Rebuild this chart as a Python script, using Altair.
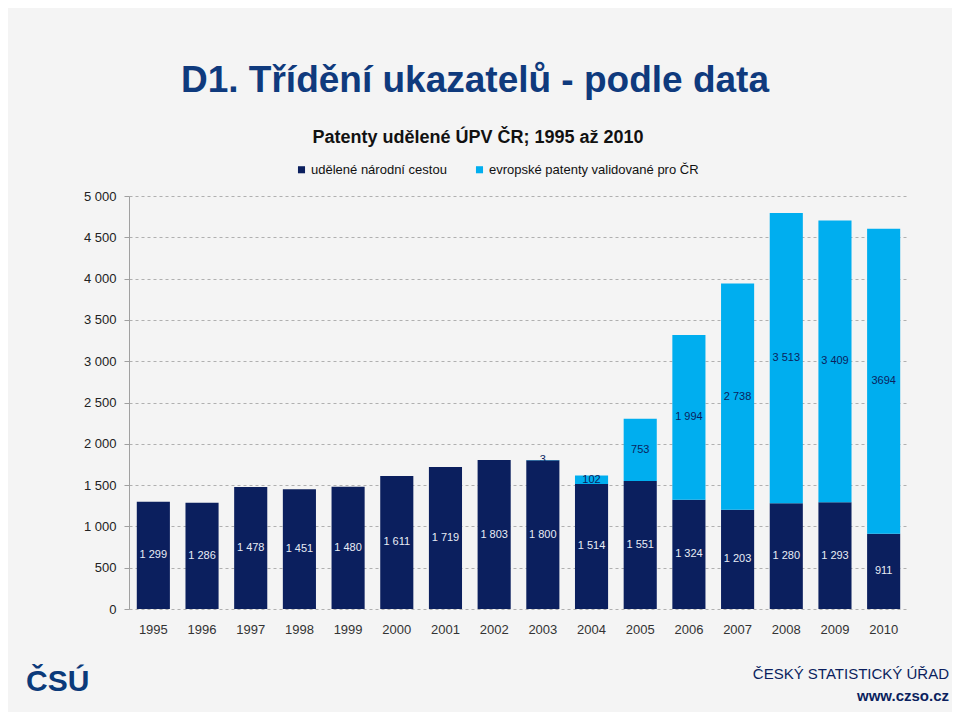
import altair as alt
import pandas as pd

years = ["1995", "1996", "1997", "1998", "1999", "2000", "2001", "2002",
         "2003", "2004", "2005", "2006", "2007", "2008", "2009", "2010"]
national = [1299, 1286, 1478, 1451, 1480, 1611, 1719, 1803,
            1800, 1514, 1551, 1324, 1203, 1280, 1293, 911]
european = [0, 0, 0, 0, 0, 0, 0, 0,
            3, 102, 753, 1994, 2738, 3513, 3409, 3694]
european_labels = ["", "", "", "", "", "", "", "",
                   "3", "102", "753", "1 994", "2 738", "3 513", "3 409", "3694"]
series_names = ["udělené národní cestou", "evropské patenty validované pro ČR"]
colors = ["#0B1F5E", "#00AEEF"]

rows = []
for i, y in enumerate(years):
    rows.append({"rok": y, "serie": series_names[0], "order": 0,
                 "start": 0, "end": national[i],
                 "label": f"{national[i]:,}".replace(",", " ")})
    if european[i] > 0:
        rows.append({"rok": y, "serie": series_names[1], "order": 1,
                     "start": national[i], "end": national[i] + european[i],
                     "label": european_labels[i]})
df = pd.DataFrame(rows)
df["mid"] = (df["start"] + df["end"]) / 2

W, H = 779, 413
font = "Liberation Sans"

xenc = alt.X("rok:N", title=None, sort=years,
             scale=alt.Scale(paddingInner=0.32, paddingOuter=0.16),
             axis=alt.Axis(labelAngle=0, labelFontSize=13, labelColor="#333333",
                           labelFont=font, ticks=False, domain=False, labelPadding=14))

bars = alt.Chart(df).mark_bar().encode(
    x=xenc,
    y=alt.Y("start:Q", title=None,
            scale=alt.Scale(domain=[0, 5000], nice=False),
            axis=alt.Axis(values=list(range(0, 5001, 500)),
                          labelExpr="replace(format(datum.value, ','), ',', ' ')",
                          labelFontSize=13, labelColor="#222222", labelFont=font,
                          grid=True, gridDash=[3, 3], gridColor="#b0b0b0",
                          domain=True, domainColor="#a0a0a0",
                          ticks=True, tickColor="#a0a0a0", tickSize=5,
                          labelPadding=8)),
    y2="end:Q",
    color=alt.Color("serie:N", sort=series_names,
                    scale=alt.Scale(domain=series_names, range=colors),
                    legend=alt.Legend(orient="none", direction="horizontal",
                                      legendX=166, legendY=-33, title=None,
                                      symbolType="square", symbolSize=50,
                                      symbolStrokeWidth=0, labelLimit=0,
                                      labelFontSize=13, labelFont=font,
                                      labelColor="#111111", columnPadding=26,
                                      symbolOffset=0, labelOffset=3)),
    order=alt.Order("order:Q"),
)

labels = alt.Chart(df).mark_text(fontSize=11, font=font).encode(
    x=alt.X("rok:N", sort=years),
    y=alt.Y("mid:Q"),
    text="label:N",
    color=alt.Color("serie:N", scale=alt.Scale(domain=series_names,
                                               range=["#E8ECF5", "#0B1F5E"]),
                    legend=None),
)

title_df = pd.DataFrame({"t": ["D1. Třídění ukazatelů - podle data"]})
title = alt.Chart(title_df).mark_text(fontSize=37, font=font, fontWeight="bold",
                                      color="#0F3A7D", baseline="middle").encode(
    text="t:N", x=alt.value(346), y=alt.value(-115))

sub_df = pd.DataFrame({"t": ["Patenty udělené ÚPV ČR; 1995 až 2010"]})
subtitle = alt.Chart(sub_df).mark_text(fontSize=18, font=font, fontWeight="bold",
                                       color="#111111", baseline="middle").encode(
    text="t:N", x=alt.value(349), y=alt.value(-58))

f1 = pd.DataFrame({"t": ["ČESKÝ STATISTICKÝ ÚŘAD"]})
footer1 = alt.Chart(f1).mark_text(fontSize=15, font=font, color="#0B1F5E",
                                  align="right", baseline="middle").encode(
    text="t:N", x=alt.value(820), y=alt.value(478))
f2 = pd.DataFrame({"t": ["www.czso.cz"]})
footer2 = alt.Chart(f2).mark_text(fontSize=15, font=font, fontWeight="bold",
                                  color="#0B1F5E", align="right",
                                  baseline="middle").encode(
    text="t:N", x=alt.value(820), y=alt.value(500))
f3 = pd.DataFrame({"t": ["ČSÚ"]})
logo = alt.Chart(f3).mark_text(fontSize=30, font=font, fontWeight="bold",
                               color="#0B3A7A", align="left",
                               baseline="middle").encode(
    text="t:N", x=alt.value(-103), y=alt.value(486))

chart = alt.layer(bars, labels, title, subtitle, footer1, footer2, logo).resolve_scale(
    color="independent"
).properties(
    width=W, height=H,
    autosize=alt.AutoSizeParams(type="none"),
    padding={"left": 121, "top": 188, "right": 44, "bottom": 103},
    background="#f4f4f4",
).configure_view(stroke=None)

chart.save("out.html", embed_options={"renderer": "svg", "actions": False})
